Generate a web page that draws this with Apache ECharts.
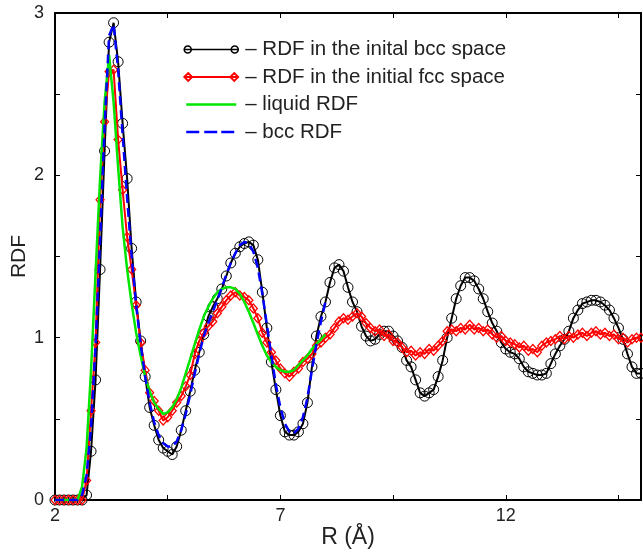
<!DOCTYPE html>
<html><head><meta charset="utf-8">
<script src="https://cdn.jsdelivr.net/npm/echarts@6/dist/echarts.min.js"></script>
<style>html,body{margin:0;padding:0;background:#fff}#c{width:643px;height:552px}</style>
</head><body><div id="c"></div>
<script>
// R grid (Å)
const r = [2.0,2.1,2.2,2.3,2.4,2.5,2.6,2.7,2.8,2.9,
3.0,3.1,3.2,3.3,3.4,3.5,3.6,3.7,3.8,3.9,
4.0,4.1,4.2,4.3,4.4,4.5,4.6,4.7,4.8,4.9,
5.0,5.1,5.2,5.3,5.4,5.5,5.6,5.7,5.8,5.9,
6.0,6.1,6.2,6.3,6.4,6.5,6.6,6.7,6.8,6.9,
7.0,7.1,7.2,7.3,7.4,7.5,7.6,7.7,7.8,7.9,
8.0,8.1,8.2,8.3,8.4,8.5,8.6,8.7,8.8,8.9,
9.0,9.1,9.2,9.3,9.4,9.5,9.6,9.7,9.8,9.9,
10.0,10.1,10.2,10.3,10.4,10.5,10.6,10.7,10.8,10.9,
11.0,11.1,11.2,11.3,11.4,11.5,11.6,11.7,11.8,11.9,
12.0,12.1,12.2,12.3,12.4,12.5,12.6,12.7,12.8,12.9,
13.0,13.1,13.2,13.3,13.4,13.5,13.6,13.7,13.8,13.9,
14.0,14.1,14.2,14.3,14.4,14.5,14.6,14.7,14.8,14.9,
15.0];

const rdfBccSpace = [0,0,0,0,0,0,0,0.03,0.30,0.74,
1.42,2.15,2.82,2.94,2.70,2.32,1.98,1.55,1.22,0.98,
0.76,0.57,0.46,0.37,0.32,0.30,0.28,0.33,0.43,0.55,
0.67,0.80,0.91,1.02,1.13,1.19,1.24,1.30,1.38,1.46,
1.52,1.56,1.58,1.59,1.57,1.48,1.28,1.06,0.85,0.68,
0.52,0.42,0.40,0.40,0.42,0.47,0.60,0.82,1.01,1.13,
1.22,1.34,1.43,1.45,1.41,1.31,1.22,1.16,1.07,1.01,
0.98,0.99,1.02,1.04,1.04,1.01,0.98,0.94,0.86,0.82,
0.74,0.66,0.64,0.66,0.68,0.76,0.86,1.00,1.12,1.24,
1.32,1.37,1.37,1.35,1.30,1.24,1.16,1.09,1.04,0.97,
0.93,0.91,0.90,0.87,0.82,0.79,0.78,0.77,0.77,0.78,
0.84,0.90,0.95,0.99,1.04,1.12,1.17,1.21,1.22,1.23,
1.23,1.22,1.20,1.17,1.12,1.06,0.99,0.90,0.82,0.78,
0.78];

const rdfFccSpace = [0,0,0,0,0,0,0,0.12,0.55,0.97,
1.85,2.33,2.64,2.65,2.22,1.91,1.62,1.42,1.20,0.97,
0.80,0.66,0.61,0.55,0.49,0.51,0.55,0.60,0.64,0.70,
0.77,0.90,0.98,1.03,1.07,1.10,1.15,1.19,1.23,1.26,
1.28,1.26,1.25,1.23,1.18,1.12,1.03,0.97,0.91,0.86,
0.81,0.78,0.76,0.79,0.81,0.85,0.87,0.90,0.95,0.97,
1.00,1.02,1.06,1.10,1.12,1.11,1.13,1.15,1.13,1.09,
1.06,1.04,1.05,1.01,1.02,0.98,0.97,0.94,0.91,0.92,
0.89,0.91,0.90,0.93,0.92,0.95,0.98,1.04,1.05,1.04,
1.06,1.05,1.08,1.05,1.06,1.04,1.05,1.02,1.00,1.01,
0.98,0.97,0.96,0.94,0.95,0.92,0.93,0.91,0.95,0.97,
0.98,0.99,1.01,0.99,1.01,1.00,1.02,1.03,1.01,1.03,
1.04,1.02,1.03,1.01,1.02,0.99,1.00,0.97,0.99,1.00,
1.00];

const liquidRdf = [0,0,0,0,0,0,0.08,0.32,0.80,1.40,
1.98,2.45,2.74,2.45,2.05,1.68,1.42,1.21,1.03,0.89,
0.76,0.67,0.60,0.56,0.53,0.54,0.57,0.62,0.69,0.78,
0.87,0.96,1.05,1.13,1.19,1.24,1.28,1.30,1.31,1.31,
1.30,1.27,1.22,1.16,1.09,1.02,0.95,0.89,0.85,0.82,
0.80,0.79,0.79,0.80,0.83,0.86,0.89,0.93,0.96,0.99,
1.02];

const bccRdf = [0,0,0,0,0,0,0.03,0.15,0.45,0.95,
1.60,2.30,2.86,2.93,2.65,2.25,1.86,1.50,1.20,0.96,
0.76,0.60,0.48,0.40,0.35,0.33,0.33,0.36,0.43,0.53,
0.65,0.78,0.90,1.01,1.09,1.16,1.23,1.31,1.39,1.46,
1.52,1.57,1.59,1.58,1.53,1.43,1.27,1.08,0.89,0.71,
0.57,0.47,0.42,0.41,0.44,0.51,0.63,0.80,0.96,1.10,
1.22];

const seriesNames = ['– RDF in the inital bcc space', '– RDF in the initial fcc space', '– liquid RDF', '– bcc RDF'];
const xTickLabels = [2, 7, 12];
const yTickLabels = [0, 1, 2, 3];

function pairs(vals) { return vals.map((v, i) => [r[i], v]); }

const FONT = '"Liberation Sans", Arial, Helvetica, sans-serif';
const TXT = '#222';
const axisLine = { show: true, onZero: false, lineStyle: { color: '#000', width: 2 } };
const tick = { show: true, inside: true, length: 5, lineStyle: { color: '#000', width: 1 } };

const chart = echarts.init(document.getElementById('c'), null, { renderer: 'canvas' });
chart.setOption({
  animation: false,
  backgroundColor: '#fff',
  grid: { left: 55, top: 13, width: 586, height: 487, containLabel: false, outerBoundsMode: 'none' },
  xAxis: [
    { type: 'value', min: 2, max: 15, interval: 2.5, position: 'bottom',
      name: 'R (Å)', nameLocation: 'middle', nameGap: 26, nameMoveOverlap: false,
      nameTextStyle: { fontFamily: FONT, fontSize: 23, color: TXT },
      axisLine: axisLine, axisTick: tick, splitLine: { show: false },
      axisLabel: { margin: 7, fontFamily: FONT, fontSize: 18, color: TXT,
        formatter: v => xTickLabels.includes(v) ? String(v) : '' } },
    { type: 'value', min: 2, max: 15, interval: 2.5, position: 'top',
      axisLine: axisLine, axisTick: tick, splitLine: { show: false }, axisLabel: { show: false } }
  ],
  yAxis: [
    { type: 'value', min: 0, max: 3, interval: 0.5, position: 'left',
      name: 'RDF', nameLocation: 'middle', nameGap: 25, nameMoveOverlap: false,
      nameTextStyle: { fontFamily: FONT, fontSize: 21, color: TXT },
      axisLine: axisLine, axisTick: tick, splitLine: { show: false },
      axisLabel: { margin: 11, fontFamily: FONT, fontSize: 18, color: TXT,
        formatter: v => yTickLabels.includes(v) ? String(v) : '' } },
    { type: 'value', min: 0, max: 3, interval: 0.5, position: 'right',
      axisLine: axisLine, axisTick: tick, splitLine: { show: false }, axisLabel: { show: false } }
  ],
  legend: {
    orient: 'vertical', left: 178, top: 34, itemWidth: 54, itemHeight: 8, itemGap: 6.5,
    selectedMode: false,
    textStyle: { fontFamily: FONT, fontSize: 20.5, color: TXT, padding: [0, 0, 0, 2] },
    data: [
      { name: seriesNames[0],
        icon: 'path://M0,0 M54,8 M0,4 L54,4 M7,4 A3.5,3.5 0 1 0 0,4 A3.5,3.5 0 1 0 7,4 M54,4 A3.5,3.5 0 1 0 47,4 A3.5,3.5 0 1 0 54,4',
        itemStyle: { color: 'transparent', borderColor: '#000', borderWidth: 1.6 } },
      { name: seriesNames[1],
        icon: 'path://M0,0 M54,8 M0,4 L54,4 M0,4 L4,0 L8,4 L4,8 Z M46,4 L50,0 L54,4 L50,8 Z',
        itemStyle: { color: 'transparent', borderColor: '#ff0000', borderWidth: 1.8 } },
      { name: seriesNames[2],
        icon: 'path://M0,0 M54,8 M2,4 L52,4',
        itemStyle: { color: 'transparent', borderColor: '#00e600', borderWidth: 2.5 } },
      { name: seriesNames[3],
        icon: 'path://M0,0 M54,8 M2,4 L15,4 M20,4 L33,4 M37,4 L50,4',
        itemStyle: { color: 'transparent', borderColor: '#0000ff', borderWidth: 2.5 } }
    ]
  },
  series: [
    { name: seriesNames[0], type: 'line', data: pairs(rdfBccSpace),
      symbol: 'circle', symbolSize: 10, showAllSymbol: true, z: 2,
      itemStyle: { color: 'transparent', borderColor: '#000', borderWidth: 1 },
      lineStyle: { color: '#000', width: 2 } },
    { name: seriesNames[1], type: 'line', data: pairs(rdfFccSpace),
      symbol: 'diamond', symbolSize: [8, 9], showAllSymbol: true, z: 3,
      itemStyle: { color: 'transparent', borderColor: '#ff0000', borderWidth: 1.3 },
      lineStyle: { color: '#ff0000', width: 2 } },
    { name: seriesNames[2], type: 'line', data: pairs(liquidRdf),
      symbol: 'none', showSymbol: false, z: 4,
      itemStyle: { color: '#00e600' },
      lineStyle: { color: '#00e600', width: 2.5 } },
    { name: seriesNames[3], type: 'line', data: pairs(bccRdf),
      symbol: 'none', showSymbol: false, z: 5,
      itemStyle: { color: '#0000ff' },
      lineStyle: { color: '#0000ff', width: 2.5, type: [9, 5] } }
  ]
});
</script>
</body></html>
